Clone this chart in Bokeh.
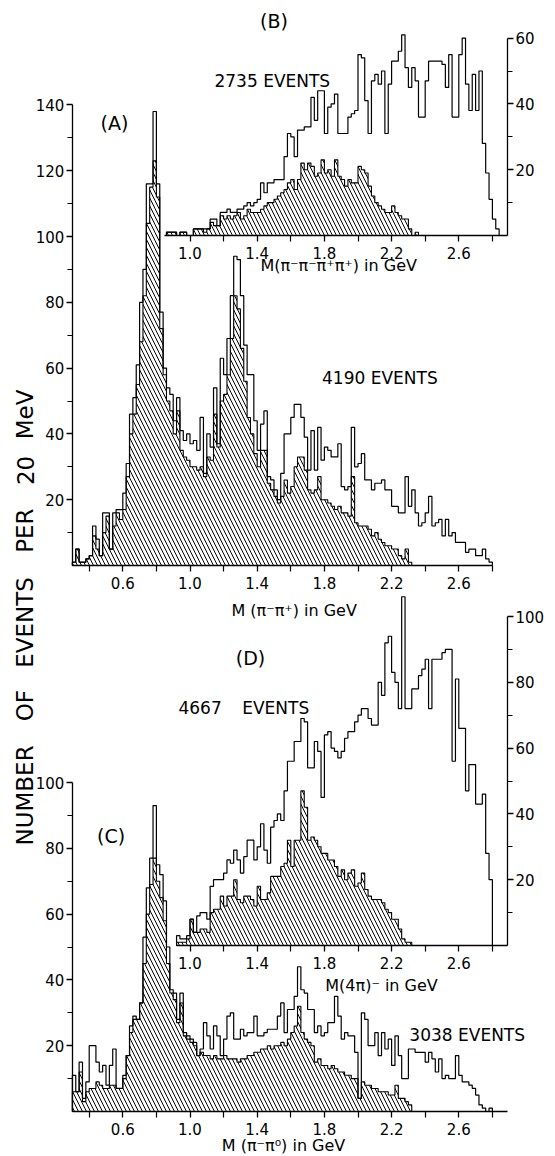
import numpy as np
from bokeh.plotting import figure
from bokeh.models import Range1d, LinearAxis, FixedTicker, Label, NumeralTickFormatter
from bokeh.embed import file_html
from bokeh.resources import INLINE

BIN_GEV = 0.02

# ---------------- data (events per 20 MeV bin) ----------------
# (A) M(pi- pi+)
A_START = 0.30
A_ALL = [1, 5, 1, 1, 2, 3, 12, 8, 3, 16,
         16, 5, 16, 17, 17, 22, 31, 46, 51, 61,
         80, 90, 116, 116, 138, 116, 77, 60, 54, 52,
         44, 51, 41, 38, 40, 37, 38, 35, 45, 28,
         40, 36, 54, 37, 63, 58, 69, 82, 94, 93,
         82, 67, 58, 58, 44, 35, 43, 47, 27, 26,
         23, 20, 28, 40, 40, 45, 49, 49, 45, 39,
         29, 41, 29, 42, 32, 36, 35, 33, 33, 37,
         24, 23, 24, 42, 30, 31, 34, 26, 26, 23,
         25, 25, 26, 23, 23, 18, 18, 16, 16, 27,
         18, 23, 16, 12, 13, 16, 21, 12, 13, 14,
         9, 14, 9, 10, 7, 7, 7, 4, 5, 5,
         3, 3, 5, 2, 1]
A_SUB = [1, 5, 1, 1, 2, 3, 9, 5, 3, 10,
         15, 5, 12, 16, 14, 17, 27, 40, 46, 55,
         68, 82, 104, 115, 123, 112, 72, 58, 50, 47,
         40, 47, 35, 33, 32, 30, 30, 29, 30, 27,
         33, 32, 46, 36, 50, 52, 58, 69, 82, 78,
         66, 56, 45, 40, 34, 30, 35, 35, 25, 23,
         21, 19, 21, 26, 22, 24, 30, 33, 33, 29,
         23, 22, 23, 27, 20, 20, 19, 18, 17, 18,
         16, 16, 15, 27, 13, 12, 12, 12, 11, 9,
         10, 8, 7, 6, 6, 5, 5, 3, 2, 5,
         1]

# (B) M(pi- pi- pi+ pi+)
B_START = 0.86
B_ALL = [1, 1, 1, 0, 1, 1, 0,
         0, 2, 2, 2, 2, 2, 5, 5, 3, 7,
         7, 8, 7, 7, 8, 8, 9, 10, 9, 10,
         11, 16, 13, 16, 16, 17, 17, 17, 24, 31,
         30, 24, 32, 32, 33, 33, 42, 35, 44, 44,
         31, 39, 40, 43, 31, 31, 31, 36, 37, 38,
         55, 54, 41, 31, 47, 49, 46, 50, 31, 46,
         53, 53, 56, 61, 51, 45, 51, 47, 36, 36,
         47, 53, 53, 53, 53, 52, 45, 55, 36, 36,
         55, 60, 46, 38, 49, 38, 50, 28, 19, 11,
         5, 2]
B_SUB = [1, 1, 1, 0, 1, 1, 0,
         0, 2, 2, 2, 1, 2, 4, 3, 3, 6,
         5, 6, 5, 6, 7, 5, 6, 8, 7, 7,
         7, 8, 9, 10, 10, 11, 12, 13, 14, 16,
         17, 14, 17, 22, 20, 22, 21, 18, 19, 23,
         19, 20, 18, 23, 18, 17, 15, 17, 16, 16,
         21, 20, 19, 15, 12, 10, 9, 8, 7, 7,
         9, 7, 6, 5, 5, 2, 0, 1]

# (C) M(pi- pi0)
C_START = 0.30
C_ALL = [11, 6, 15, 4, 9, 20, 20, 15, 12, 14,
         8, 14, 19, 7, 7, 11, 17, 26, 29, 28,
         33, 53, 68, 77, 93, 75, 72, 64, 50, 37,
         36, 28, 36, 24, 23, 22, 21, 17, 19, 27,
         23, 19, 26, 23, 17, 22, 29, 30, 22, 22,
         25, 23, 24, 24, 29, 23, 23, 24, 25, 25,
         25, 29, 33, 24, 31, 31, 35, 44, 37, 36,
         31, 31, 24, 26, 23, 24, 27, 27, 35, 29,
         22, 24, 23, 23, 18, 4, 30, 28, 20, 20,
         24, 17, 24, 19, 22, 14, 23, 17, 10, 10,
         19, 19, 18, 18, 18, 15, 18, 16, 12, 16,
         10, 11, 10, 10, 17, 11, 9, 9, 8, 7,
         5, 2, 1, 0, 1]
C_SUB = [6, 6, 12, 3, 6, 7, 7, 9, 8, 7,
         7, 8, 8, 7, 7, 10, 17, 24, 28, 28,
         33, 45, 60, 69, 77, 70, 65, 58, 45, 36,
         34, 27, 33, 23, 22, 21, 20, 17, 18, 17,
         17, 16, 17, 16, 16, 17, 16, 16, 16, 15,
         16, 16, 17, 17, 18, 18, 19, 19, 20, 19,
         20, 20, 21, 20, 22, 24, 26, 32, 24, 22,
         21, 20, 15, 16, 14, 14, 13, 14, 13, 12,
         12, 11, 11, 10, 10, 4, 9, 8, 8, 7,
         7, 6, 6, 6, 5, 5, 8, 4, 4, 3,
         2]

# (D) M(4pi)-
D_START = 0.92
D_ALL = [3, 2, 2, 3, 8, 4, 9, 10, 10, 8,
         18, 20, 20, 20, 22, 26, 25, 29, 26, 22,
         27, 32, 32, 26, 30, 37, 29, 25, 36, 38,
         40, 38, 47, 56, 56, 62, 62, 69, 68, 54,
         54, 62, 59, 45, 64, 65, 60, 59, 57, 59,
         63, 65, 65, 68, 70, 72, 72, 69, 67, 67,
         80, 76, 92, 94, 83, 80, 72, 106, 72, 72,
         78, 78, 82, 84, 87, 72, 87, 87, 87, 89,
         90, 90, 56, 81, 66, 66, 47, 55, 55, 43,
         43, 46, 28, 20]
D_SUB = [1, 1, 1, 2, 8, 4, 4, 5, 5, 4,
         10, 11, 11, 15, 12, 15, 15, 20, 14, 13,
         15, 15, 14, 12, 18, 14, 14, 16, 21, 21,
         21, 24, 25, 32, 24, 32, 32, 47, 42, 32,
         33, 32, 30, 28, 28, 26, 26, 24, 21, 23,
         20, 22, 23, 18, 19, 22, 17, 15, 14, 14,
         14, 13, 11, 10, 8, 8, 5, 2, 1, 1]

# tick values
X_TICKS_AC = [0.6, 1.0, 1.4, 1.8, 2.2, 2.6]
X_MINOR_AC = [0.4, 0.8, 1.2, 1.6, 2.0, 2.4, 2.8]
X_TICKS_BD = [1.0, 1.4, 1.8, 2.2, 2.6]
X_MINOR_BD = [1.2, 1.6, 2.0, 2.4, 2.8]
A_YTICKS = [20, 40, 60, 80, 100, 120, 140]
A_YMINOR = [10, 30, 50, 70, 90, 110, 130]
B_YTICKS = [20, 40, 60]
B_YMINOR = [10, 30, 50]
C_YTICKS = [20, 40, 60, 80, 100]
C_YMINOR = [10, 30, 50, 70, 90]
D_YTICKS = [20, 40, 60, 80, 100]
D_YMINOR = [10, 30, 50, 70, 90]

# ---------------- layout ----------------
FONT = "DejaVu Sans"
W, H = 555, 1156
PX_PER_GEV = 168.0
X_1GEV = 189.5
PX_PER_COUNT = 3.29
BASE = {"default": 565.0, "B": 235.0, "C": 1111.0, "D": 945.0}


def y_range_for(base):
    return Range1d(start=(base - H) / PX_PER_COUNT, end=base / PX_PER_COUNT)


p = figure(width=W, height=H, output_backend="svg", toolbar_location=None,
           x_range=Range1d(1.0 - X_1GEV / PX_PER_GEV, 1.0 + (W - X_1GEV) / PX_PER_GEV),
           y_range=y_range_for(BASE["default"]),
           x_axis_location=None, y_axis_location=None, min_border=0,
           outline_line_color=None, background_fill_color="white",
           border_fill_color="white")
p.extra_y_ranges = {k: y_range_for(v) for k, v in BASE.items() if k != "default"}
p.grid.visible = False


def step_xy(start, counts):
    counts = np.asarray(counts, dtype=float)
    edges = start + BIN_GEV * np.arange(len(counts) + 1)
    xs = np.repeat(edges, 2)
    ys = np.concatenate([[0.0], np.repeat(counts, 2), [0.0]])
    return xs, ys


def hist(start_all, all_counts, start_sub, sub_counts, rng):
    xs, ys = step_xy(start_sub, sub_counts)
    p.patch(xs, ys, fill_alpha=0, line_color="black", line_width=1.1,
            hatch_pattern="\\", hatch_color="black", hatch_scale=8,
            hatch_weight=1.0, hatch_alpha=1.0, y_range_name=rng)
    xs, ys = step_xy(start_all, all_counts)
    p.line(xs, ys, line_color="black", line_width=1.2, y_range_name=rng)


hist(A_START, A_ALL, A_START, A_SUB, "default")
hist(B_START, B_ALL, B_START, B_SUB, "B")
hist(C_START, C_ALL, C_START, C_SUB, "C")
hist(D_START, D_ALL, D_START, D_SUB, "D")


def style_axis(ax, size, tick_out, minor_out, standoff):
    ax.axis_line_color = "black"
    ax.axis_line_width = 1.3
    ax.major_tick_line_width = 1.3
    ax.minor_tick_line_width = 1.2
    ax.major_tick_in = 0
    ax.minor_tick_in = 0
    ax.major_tick_out = tick_out
    ax.minor_tick_out = minor_out
    ax.major_label_standoff = standoff
    ax.major_label_text_font = FONT
    ax.major_label_text_font_size = size
    ax.major_label_text_color = "black"
    return ax


def x_axis(rng, bounds, ticks, minor):
    ax = LinearAxis(y_range_name=rng, fixed_location=0, bounds=bounds,
                    ticker=FixedTicker(ticks=ticks, minor_ticks=minor),
                    formatter=NumeralTickFormatter(format="0.0"))
    style_axis(ax, "15px", 6, 6, 5)
    p.add_layout(ax, "below")


def y_axis(rng, loc, bounds, ticks, minor, side):
    ax = LinearAxis(y_range_name=rng, fixed_location=loc, bounds=bounds,
                    ticker=FixedTicker(ticks=ticks, minor_ticks=minor))
    style_axis(ax, "15px", 6, 5, 2)
    p.add_layout(ax, side)


x_axis("default", (0.30, 2.80), X_TICKS_AC, X_MINOR_AC)
y_axis("default", 0.30, (0, 140), A_YTICKS, A_YMINOR, "left")
x_axis("B", (0.85, 2.89), X_TICKS_BD, X_MINOR_BD)
y_axis("B", 2.89, (0, 60), B_YTICKS, B_YMINOR, "right")
x_axis("C", (0.30, 2.89), X_TICKS_AC, X_MINOR_AC)
y_axis("C", 0.30, (0, 100), C_YTICKS, C_YMINOR, "left")
x_axis("D", (0.92, 2.89), X_TICKS_BD, X_MINOR_BD)
y_axis("D", 2.89, (0, 100), D_YTICKS, D_YMINOR, "right")


def label(x, y, text, rng="default", size="16px", angle=0.0):
    p.add_layout(Label(x=x, y=y, text=text, y_range_name=rng, text_font=FONT,
                       text_font_size=size, text_align="center",
                       text_baseline="middle", angle=angle, text_color="black"))


label(0.55, 134.5, "(A)", size="19px")
label(1.50, 65.3, "(B)", "B", size="19px")
label(1.36, 87.5, "(D)", "D", size="19px")
label(0.53, 83.6, "(C)", "C", size="19px")

label(1.49, 47.1, "2735 EVENTS", "B", size="17px")
label(2.13, 57.0, "4190 EVENTS", size="17px")
label(1.06, 72.3, "4667", "D", size="17px")
label(1.51, 72.3, "EVENTS", "D", size="17px")
label(2.65, 23.4, "3038 EVENTS", "C", size="17px")

label(1.62, -13.7, "M (π⁻π⁺) in GeV", size="16px")
label(1.885, -9.1, "M(π⁻π⁻π⁺π⁺) in GeV", "B", size="16px")
label(2.14, -12.2, "M(4π)⁻ in GeV", "D", size="16px")
label(1.557, -10.2, "M (π⁻π⁰) in GeV", "C", size="16px")

# vertical axis title, one word at a time (positions in panel-A counts)
for word, yv in [("MeV", 45.9), ("20", 28.9), ("PER", 10.6),
                 ("EVENTS", -17.3), ("OF", -42.6), ("NUMBER", -69.9)]:
    label(0.02, yv, word, size="23px", angle=np.pi / 2)

open("out.html", "w").write(file_html(p, INLINE))
